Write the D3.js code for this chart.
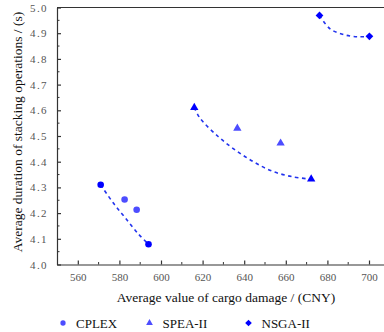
<!DOCTYPE html>
<html>
<head>
<meta charset="utf-8">
<script src="https://cdn.jsdelivr.net/npm/d3@7"></script>
<style>
  body { margin: 0; background: #fff; }
  svg { display: block; }
  svg text { font-family: "Liberation Serif", "Times New Roman", serif; }
</style>
</head>
<body>
<div id="chart"></div>
<script>
// scatter points (cargo damage, duration)
var cplexX = [571, 582.5, 588.3, 594];
var cplexY = [4.31, 4.253, 4.213, 4.079];
var speaX = [616, 636.7, 657.5, 672.2];
var speaY = [4.611, 4.53, 4.472, 4.332];
var nsgaX = [676.2, 700.2];
var nsgaY = [4.969, 4.888];

// dashed fitted curves
var cplexFitX = [571, 577, 583, 589, 594];
var cplexFitY = [4.31, 4.24, 4.18, 4.12, 4.079];
var speaFitX = [616, 618.8, 627.6, 635.6, 644.4, 653.2, 662.8, 672.2];
var speaFitY = [4.611, 4.569, 4.497, 4.446, 4.40, 4.364, 4.342, 4.332];
var nsgaFitX = [676.2, 681.3, 688.5, 695, 700.2];
var nsgaFitY = [4.969, 4.917, 4.893, 4.886, 4.888];

var xTicks = [560, 580, 600, 620, 640, 660, 680, 700];
var yTicks = [4.0, 4.1, 4.2, 4.3, 4.4, 4.5, 4.6, 4.7, 4.8, 4.9, 5.0];
var legendNames = ["CPLEX", "SPEA-II", "NSGA-II"];

var width = 384, height = 332;
var margin = { top: 7.5, left: 57, bottom: 67 };

var x = d3.scaleLinear().domain([550, 710]).range([margin.left, margin.left + 160 * 2.08]);
var y = d3.scaleLinear().domain([4.0, 5.0]).range([height - margin.bottom - 0.5, margin.top]);

var svg = d3.select("#chart").append("svg")
    .attr("width", width)
    .attr("height", height);

var axisColor = "#333";
var labelColor = "#555";

// top frame line
svg.append("line")
    .attr("x1", x(550)).attr("x2", width)
    .attr("y1", y(5.0)).attr("y2", y(5.0))
    .attr("stroke", axisColor).attr("stroke-width", 1.2);

// x axis, ticks inward
var xAxis = svg.append("g")
    .attr("transform", "translate(0," + y(4.0) + ")")
    .call(d3.axisBottom(x).tickValues(xTicks).tickSizeInner(-4).tickSizeOuter(0).tickPadding(9).tickFormat(d3.format("d")));
xAxis.append("g").selectAll("line")
    .data(d3.range(570, 711, 20))
    .join("line")
    .attr("x1", function (d) { return x(d); }).attr("x2", function (d) { return x(d); })
    .attr("y1", 0).attr("y2", -2.5)
    .attr("stroke", axisColor);

// y axis, ticks inward
var yAxis = svg.append("g")
    .attr("transform", "translate(" + x(550) + ",0)")
    .call(d3.axisLeft(y).tickValues(yTicks).tickSizeInner(-4).tickSizeOuter(0).tickPadding(9).tickFormat(d3.format(".1f")));
yAxis.append("g").selectAll("line")
    .data(d3.range(4.05, 5.0, 0.1))
    .join("line")
    .attr("y1", function (d) { return y(d); }).attr("y2", function (d) { return y(d); })
    .attr("x1", 0).attr("x2", 2.5)
    .attr("stroke", axisColor);

svg.selectAll(".domain, .tick line").attr("stroke", axisColor).attr("stroke-width", 1.2);
xAxis.selectAll(".tick text").style("font-size", "11px").attr("fill", labelColor);
yAxis.selectAll(".tick text").style("font-size", "11px").attr("fill", labelColor)
    .attr("letter-spacing", 1.4);

// axis titles
svg.append("text")
    .attr("x", 226).attr("y", 302)
    .attr("text-anchor", "middle")
    .style("font-size", "13.5px")
    .attr("fill", "#111")
    .text("Average value of cargo damage / (CNY)");

svg.append("text")
    .attr("transform", "translate(22,132) rotate(-90)")
    .attr("text-anchor", "middle")
    .style("font-size", "13.5px")
    .attr("fill", "#111")
    .text("Average duration of stacking operations / (s)");

// dashed fit lines
var line = d3.line()
    .x(function (d) { return x(d[0]); })
    .y(function (d) { return y(d[1]); })
    .curve(d3.curveCatmullRom);

[[cplexFitX, cplexFitY], [speaFitX, speaFitY], [nsgaFitX, nsgaFitY]].forEach(function (f) {
    svg.append("path")
        .datum(d3.zip(f[0], f[1]))
        .attr("d", line)
        .attr("fill", "none")
        .attr("stroke", "#2233ee")
        .attr("stroke-width", 1.6)
        .attr("stroke-dasharray", "3.5,3.5");
});

// markers (diamond = square turned 45 degrees)
var series = [
    { xs: cplexX, ys: cplexY, type: d3.symbolCircle, size: 34, rot: 0 },
    { xs: speaX, ys: speaY, type: d3.symbolTriangle, size: 30, rot: 0 },
    { xs: nsgaX, ys: nsgaY, type: d3.symbolSquare, size: 30, rot: 45 }
];

series.forEach(function (s) {
    var pts = d3.zip(s.xs, s.ys);
    svg.append("g").selectAll("path")
        .data(pts)
        .join("path")
        .attr("transform", function (d) { return "translate(" + x(d[0]) + "," + y(d[1]) + ") rotate(" + s.rot + ")"; })
        .attr("d", d3.symbol().type(s.type).size(s.size))
        .attr("fill", function (d, i) {
            // Pareto ends of each fit are drawn in full blue
            return (i === 0 || i === pts.length - 1) ? "#0000ff" : "#4d4dff";
        });
});

// legend
var legendX = [63, 149.5, 248.5];
var legendSym = [d3.symbolCircle, d3.symbolTriangle, d3.symbolSquare];
var legendSize = [22, 20, 22];
var legendRot = [0, 0, 45];
var legendFill = ["#4d4dff", "#4d4dff", "#0000ff"];
legendNames.forEach(function (name, i) {
    var g = svg.append("g").attr("transform", "translate(" + legendX[i] + ",323)");
    g.append("path")
        .attr("transform", "rotate(" + legendRot[i] + ")")
        .attr("d", d3.symbol().type(legendSym[i]).size(legendSize[i]))
        .attr("fill", legendFill[i]);
    g.append("text")
        .attr("x", 13).attr("y", 4.5)
        .style("font-size", "13px")
        .attr("fill", "#111")
        .text(name);
});
</script>
</body>
</html>
